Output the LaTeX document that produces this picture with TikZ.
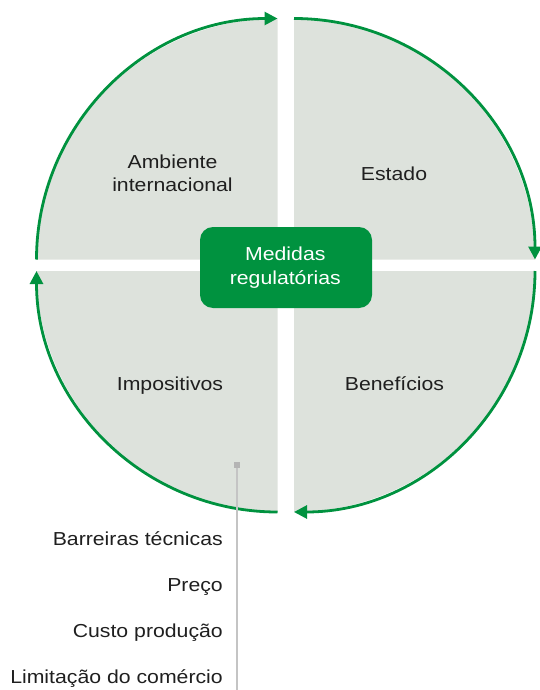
\documentclass[tikz,border=0pt]{standalone}
\usepackage{fontspec}
\setmainfont{Liberation Sans}[FakeStretch=1.13]
\usetikzlibrary{arrows.meta}
\definecolor{cgreen}{RGB}{0,146,63}
\definecolor{cfill}{RGB}{221,226,220}
\definecolor{cline}{RGB}{196,196,196}
\definecolor{csq}{RGB}{180,180,180}
\tikzset{
  quad/.style={fill=cfill},
  ring/.style={draw=cgreen, line width=2.8pt, -{Triangle[length=13pt,width=13pt]}},
  lbl/.style={anchor=base, align=center, font=\fontsize{18.8}{23.5}\selectfont, text=black!88, inner sep=0pt},
  keybox/.style={fill=cgreen, rounded corners=13pt, minimum width=172pt, minimum height=81pt, inner sep=0pt},
  sublbl/.style={anchor=base east, font=\fontsize{18.8}{24}\selectfont, text=black!88, inner sep=0pt},
}
\begin{document}
\begin{tikzpicture}[x=1pt,y=-1pt]
\useasboundingbox (0,0) rectangle (540,690);
\def\R{241}
\coordinate (tl) at (277.5,259.5);
\coordinate (tr) at (294,259.5);
\coordinate (bl) at (277.5,271);
\coordinate (br) at (294,271);
% quadrants
\fill[quad] (tl) -- ++(-\R,0) arc[start angle=180,end angle=270,radius=\R] -- cycle;
\fill[quad] (tr) -- ++(0,-\R) arc[start angle=270,end angle=360,radius=\R] -- cycle;
\fill[quad] (br) -- ++(\R,0) arc[start angle=0,end angle=90,radius=\R] -- cycle;
\fill[quad] (bl) -- ++(0,\R) arc[start angle=90,end angle=180,radius=\R] -- cycle;
% green arrows
\draw[ring] ([xshift=-\R pt]tl) arc[start angle=180,end angle=270,radius=\R];
\draw[ring] ([yshift=\R pt]tr) arc[start angle=270,end angle=360,radius=\R];
\draw[ring] ([xshift=\R pt]br) arc[start angle=0,end angle=90,radius=\R];
\draw[ring] ([yshift=-\R pt]bl) arc[start angle=90,end angle=180,radius=\R];
% labels
\node[lbl] (amb) at (172.5,191.7) {Ambiente\\internacional};
\node[lbl] (est) at (394,180) {Estado};
\node[lbl] (imp) at (170,390.7) {Impositivos};
\node[lbl] (ben) at (394.5,390.7) {Benefícios};
% central box
\node[keybox] (med) at (286,267.5) {};
\node[lbl, text=white] (medt) at (285.3,284.3) {Medidas\\regulatórias};
% pointer
\node[fill=csq, minimum size=6pt, inner sep=0pt] (sq) at (237,465) {};
\coordinate (pend) at (237,690);
\draw[cline, line width=1.5pt] (sq.south) -- (pend);
% sub items
\node[sublbl] (s1) at (223,545) {Barreiras técnicas};
\node[sublbl] (s2) at (223,591.5) {Preço};
\node[sublbl] (s3) at (223,637.5) {Custo produção};
\node[sublbl] (s4) at (223,683) {Limitação do comércio};
\end{tikzpicture}
\end{document}
